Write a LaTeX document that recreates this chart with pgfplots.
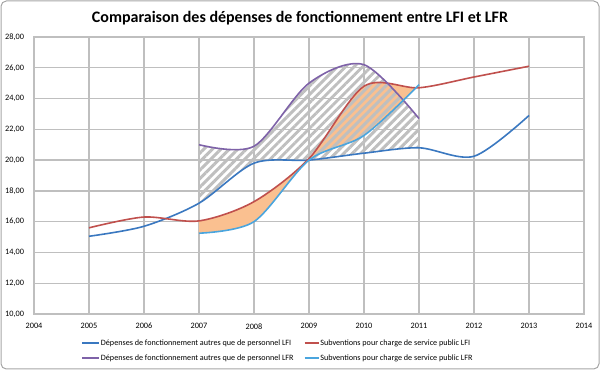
\documentclass[border=0pt]{standalone}
\usepackage{pgfplots}
\pgfplotsset{compat=1.18}
\usepackage{pgfplotstable}
\usepgfplotslibrary{fillbetween}
\usetikzlibrary{patterns.meta}
\usepackage{fontspec}
\setmainfont{Carlito}
\definecolor{cA}{HTML}{3A78C0}
\definecolor{cB}{HTML}{C0504D}
\definecolor{cC}{HTML}{7E62A8}
\definecolor{cD}{HTML}{4AA5DE}
\definecolor{orf}{HTML}{FAC090}
\definecolor{gridc}{HTML}{BFBFBF}

\pgfplotstableread{
x y
2005 15.05
2006 15.7
2007 17.2
2008 19.8
2009 20.0
2010 20.45
2011 20.8
2012 20.25
2013 22.9
}\lfidep
\pgfplotstableread{
x y
2005 15.6
2006 16.3
2007 16.05
2008 17.3
2009 20.1
2010 24.8
2011 24.7
2012 25.4
2013 26.1
}\lfisub
\pgfplotstableread{
x y
2007 21.0
2008 20.9
2009 25.0
2010 26.2
2011 22.7
}\lfrdep
\pgfplotstableread{
x y
2007 15.25
2008 16.0
2009 20.0
2010 21.6
2011 24.9
}\lfrsub

\begin{document}
\begin{tikzpicture}[x=1pt,y=1pt]
\draw[gray!70, line width=0.75pt, rounded corners=4pt] (0.75,0.75) rectangle (449.25,276.75);
\node[font=\bfseries\fontsize{12}{14}\selectfont] at (225,264) {Comparaison des dépenses de fonctionnement entre LFI et LFR};
% legend (drawn before the axis)
\begin{scope}[every node/.style={anchor=west, inner sep=0pt, font=\fontsize{6.1}{7}\selectfont}]
\draw[cA, line width=1.6pt] (61.5,20.25) -- (74.5,20.25);
\node at (75.5,20.25) {Dépenses de fonctionnement autres que de personnel LFI};
\draw[cB, line width=1.6pt] (228.5,20.25) -- (239,20.25);
\node at (240,20.25) {Subventions pour charge de service public LFI};
\draw[cC, line width=1.6pt] (61.5,9.0) -- (74.5,9.0);
\node at (75.5,9.0) {Dépenses de fonctionnement autres que de personnel LFR};
\draw[cD, line width=1.6pt] (228.5,9.0) -- (239,9.0);
\node at (240,9.0) {Subventions pour charge de service public LFR};
\end{scope}
\begin{axis}[
  at={(25.5pt,42pt)}, anchor=south west,
  scale only axis, width=412.5pt, height=207.75pt,
  xmin=2004, xmax=2014, ymin=10, ymax=28,
  xtick={2004,...,2014}, ytick={10,12,...,28},
  grid=major, grid style={gridc, line width=1pt},
  axis line style={gridc, line width=1pt},
  major tick length=0pt, tick pos=left,
  /pgf/number format/assume math mode=true,
  tick label style={font=\fontsize{6.2}{7}\selectfont},
  x tick label style={/pgf/number format/1000 sep={}, yshift=-3.5pt},
  y tick label style={/pgf/number format/.cd, fixed, fixed zerofill, precision=2, use comma, /tikz/.cd, xshift=-4pt},
]
\addplot[draw=none, smooth, name path=A, forget plot] table {\lfidep};
\addplot[draw=none, smooth, name path=B, forget plot] table {\lfisub};
\addplot[draw=none, smooth, name path=C, forget plot] table {\lfrdep};
\addplot[draw=none, smooth, name path=D, forget plot] table {\lfrsub};
\addplot[fill=orf, draw=none, forget plot] fill between[of=B and D, soft clip={domain=2006.995:2011.005}];
\addplot[pattern={Lines[angle=45,distance=4.5pt,line width=2.2pt]}, pattern color=gridc, draw=none, forget plot] fill between[of=C and A, soft clip={domain=2006.995:2011.005}];
\addplot[draw=cA, line width=1.2pt, smooth] table {\lfidep};
\addplot[draw=cB, line width=1.2pt, smooth] table {\lfisub};
\addplot[draw=cC, line width=1.2pt, smooth] table {\lfrdep};
\addplot[draw=cD, line width=1.2pt, smooth] table {\lfrsub};
\end{axis}
\pgfresetboundingbox
\useasboundingbox (0,0) rectangle (450,277.5);
\end{tikzpicture}
\end{document}
